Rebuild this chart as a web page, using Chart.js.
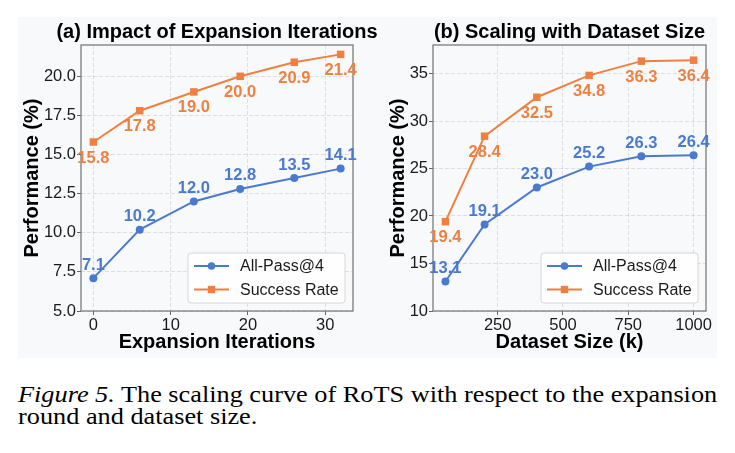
<!DOCTYPE html>
<html lang="en">
<head>
<meta charset="UTF-8">
<title>Figure 5</title>
<script src="https://cdn.jsdelivr.net/npm/chart.js"></script>
<style>
    * {
        box-sizing: border-box;
    }
    body {
        margin: 0;
        background: #fff;
    }
    .figure {
        position: relative;
        width: 735px;
        height: 453px;
    }
    .panel-bg {
        position: absolute;
        left: 18px;
        top: 17px;
        width: 699px;
        height: 341px;
        background: #f8f9fb;
    }
    .chart-left {
        position: absolute;
        left: 0;
        top: 0;
        width: 400px;
        height: 360px;
    }
    .chart-right {
        position: absolute;
        left: 360px;
        top: 0;
        width: 375px;
        height: 360px;
    }
    .caption {
        position: absolute;
        left: 18px;
        top: 383px;
        font-family: "Liberation Serif", "Times New Roman", serif;
        font-size: 24px;
        line-height: 22px;
        color: #000;
        white-space: nowrap;
        transform: scaleX(1.095);
        transform-origin: left top;
    }
</style>
</head>
<body>
<div class="figure">
    <div class="panel-bg"></div>
    <div class="chart-left"><canvas id="iterChart"></canvas></div>
    <div class="chart-right"><canvas id="sizeChart"></canvas></div>
    <div class="caption"><i>Figure 5.</i> The scaling curve of RoTS with respect to the expansion<br>round and dataset size.</div>
</div>

<script>
    const seriesNames = ['All-Pass@4', 'Success Rate'];

    // (a) expansion iterations
    const iterX = [0, 6, 13, 19, 26, 32];
    const iterAllPass = [7.1, 10.2, 12.0, 12.8, 13.5, 14.1];
    const iterSuccess = [15.8, 17.8, 19.0, 20.0, 20.9, 21.4];
    const iterXTicks = [0, 10, 20, 30];
    const iterYTicks = [5, 7.5, 10, 12.5, 15, 17.5, 20];

    // (b) dataset size (k)
    const sizeX = [50, 200, 400, 600, 800, 1000];
    const sizeAllPass = [13.1, 19.1, 23.0, 25.2, 26.3, 26.4];
    const sizeSuccess = [19.4, 28.4, 32.5, 34.8, 36.3, 36.4];
    const sizeXTicks = [250, 500, 750, 1000];
    const sizeYTicks = [10, 15, 20, 25, 30, 35];

    const BLUE = '#4a7ad0';
    const ORANGE = '#ef8040';
    const SANS = '"Liberation Sans", Arial, Helvetica, sans-serif';

    function toPoints(xs, ys) {
        return xs.map((x, i) => ({x: x, y: ys[i]}));
    }

    // frame, panel title, value labels and legend box
    const panelPlugin = {
        id: 'panel',
        afterDraw(chart, args, opts) {
            const ctx = chart.ctx;
            const a = chart.chartArea;
            ctx.save();

            ctx.strokeStyle = '#707070';
            ctx.lineWidth = 1.2;
            ctx.strokeRect(a.left, a.top, a.right - a.left, a.bottom - a.top);

            ctx.fillStyle = '#000';
            ctx.font = 'bold 20px ' + SANS;
            ctx.textAlign = 'center';
            ctx.textBaseline = 'alphabetic';
            ctx.fillText(opts.title, (a.left + a.right) / 2, 38);

            ctx.font = 'bold 16.5px ' + SANS;
            ctx.textBaseline = 'middle';
            chart.data.datasets.forEach((ds, i) => {
                const meta = chart.getDatasetMeta(i);
                ctx.fillStyle = ds.borderColor;
                meta.data.forEach((pt, j) => {
                    const dy = i === 0 ? -13 : 16;
                    ctx.fillText(ds.data[j].y.toFixed(1), pt.x, pt.y + dy);
                });
            });

            // legend
            const w = 157, h = 50;
            const left = a.right - 8 - w;
            const top = a.bottom - 8 - h;
            ctx.beginPath();
            ctx.roundRect(left, top, w, h, 3);
            ctx.fillStyle = 'rgba(255,255,255,0.85)';
            ctx.fill();
            ctx.strokeStyle = '#d6d6d6';
            ctx.lineWidth = 1;
            ctx.stroke();

            ctx.font = '16px ' + SANS;
            ctx.textAlign = 'left';
            chart.data.datasets.forEach((ds, i) => {
                const y = top + 13 + i * 23.5;
                ctx.strokeStyle = ds.borderColor;
                ctx.lineWidth = 2;
                ctx.beginPath();
                ctx.moveTo(left + 6, y);
                ctx.lineTo(left + 41, y);
                ctx.stroke();
                ctx.fillStyle = ds.borderColor;
                if (ds.pointStyle === 'rect') {
                    ctx.fillRect(left + 23.5 - 3.7, y - 3.7, 7.4, 7.4);
                } else {
                    ctx.beginPath();
                    ctx.arc(left + 23.5, y, 3.8, 0, Math.PI * 2);
                    ctx.fill();
                }
                ctx.fillStyle = '#1a1a1a';
                ctx.fillText(ds.label, left + 52, y + 1);
            });

            ctx.restore();
        }
    };

    function makeChart(id, cfg) {
        const tickFont = {family: SANS, size: 16.5};
        const titleFont = {family: SANS, size: 20, weight: 'bold'};
        const grid = {
            color: 'rgba(0,0,0,0.1)',
            tickColor: '#666',
            tickLength: 4,
            tickBorderDash: []
        };
        const border = {display: false, dash: [4, 2]};

        new Chart(document.getElementById(id), {
            type: 'line',
            data: {
                datasets: [{
                    label: seriesNames[0],
                    data: toPoints(cfg.x, cfg.allPass),
                    borderColor: BLUE,
                    backgroundColor: BLUE,
                    borderWidth: 2,
                    pointStyle: 'circle',
                    pointRadius: 4,
                    pointBorderWidth: 0,
                    tension: 0
                }, {
                    label: seriesNames[1],
                    data: toPoints(cfg.x, cfg.success),
                    borderColor: ORANGE,
                    backgroundColor: ORANGE,
                    borderWidth: 2,
                    pointStyle: 'rect',
                    pointRadius: 5.3,
                    pointBorderWidth: 0,
                    tension: 0
                }]
            },
            options: {
                responsive: true,
                maintainAspectRatio: false,
                animation: false,
                layout: {
                    padding: {top: 45, right: cfg.padRight, bottom: 0, left: 0}
                },
                plugins: {
                    legend: {display: false},
                    tooltip: {enabled: false},
                    panel: {title: cfg.title}
                },
                scales: {
                    x: {
                        type: 'linear',
                        min: cfg.xMin,
                        max: cfg.xMax,
                        afterBuildTicks: s => { s.ticks = cfg.xTicks.map(v => ({value: v})); },
                        afterFit: s => { s.height = 49; },
                        ticks: {font: tickFont, color: '#1a1a1a', padding: 1, maxRotation: 0, callback: v => String(v)},
                        grid: grid,
                        border: border,
                        title: {display: true, text: cfg.xTitle, font: titleFont, color: '#000', padding: {top: 0, bottom: 6}}
                    },
                    y: {
                        type: 'linear',
                        min: cfg.yMin,
                        max: cfg.yMax,
                        afterBuildTicks: s => { s.ticks = cfg.yTicks.map(v => ({value: v})); },
                        afterFit: s => { s.width = cfg.plotLeft; },
                        ticks: {font: tickFont, color: '#1a1a1a', padding: 1, callback: cfg.yFormat},
                        grid: grid,
                        border: border,
                        title: {display: true, text: 'Performance (%)', font: titleFont, color: '#000', padding: {top: cfg.yTitlePad, bottom: 0}}
                    }
                }
            },
            plugins: [panelPlugin]
        });
    }

    makeChart('iterChart', {
        title: '(a) Impact of Expansion Iterations',
        x: iterX, allPass: iterAllPass, success: iterSuccess,
        xTicks: iterXTicks, yTicks: iterYTicks,
        xMin: -1.6, xMax: 33.6, yMin: 5, yMax: 22,
        xTitle: 'Expansion Iterations',
        yFormat: v => v.toFixed(1),
        plotLeft: 81, padRight: 47, yTitlePad: 20
    });

    makeChart('sizeChart', {
        title: '(b) Scaling with Dataset Size',
        x: sizeX, allPass: sizeAllPass, success: sizeSuccess,
        xTicks: sizeXTicks, yTicks: sizeYTicks,
        xMin: 2.5, xMax: 1047.5, yMin: 10, yMax: 38,
        xTitle: 'Dataset Size (k)',
        yFormat: v => String(v),
        plotLeft: 73, padRight: 29, yTitlePad: 26
    });
</script>
</body>
</html>
